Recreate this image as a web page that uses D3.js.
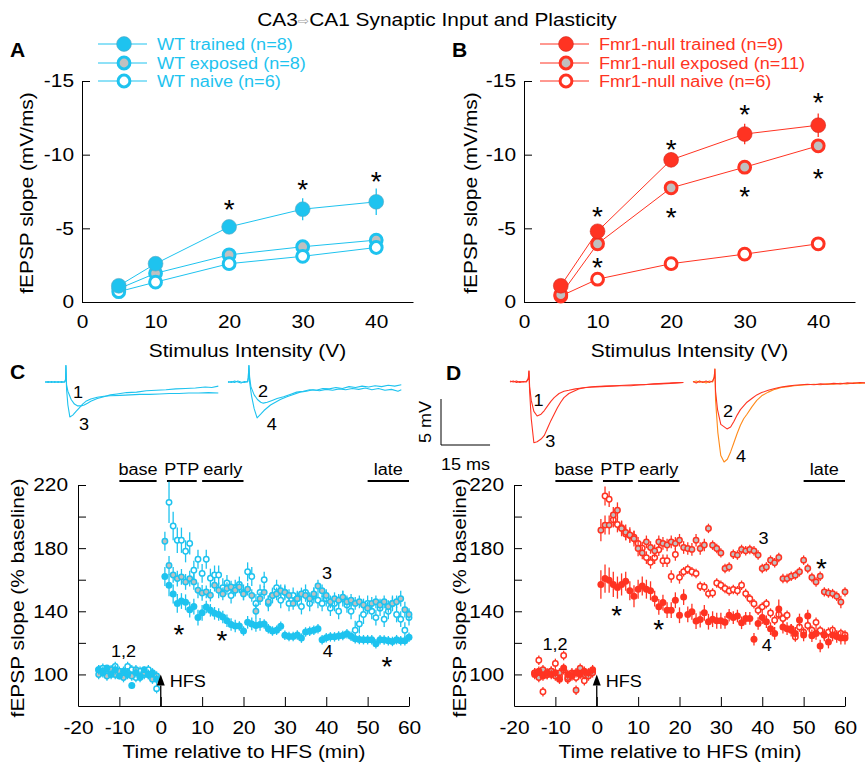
<!DOCTYPE html>
<html><head><meta charset="utf-8">
<script src="https://cdn.jsdelivr.net/npm/d3@7"></script>
<style>
body{margin:0;background:#fff;}
text{font-family:"Liberation Sans",Arial,Helvetica,sans-serif;}
</style></head><body>
<svg id="chart" width="865" height="766" xmlns="http://www.w3.org/2000/svg"></svg>
<script>
// ---------------- DATA ----------------
const titleText = "CA1 Synaptic Input and Plasticity";
// Panel A/B: input-output
const intensities = [5, 10, 20, 30, 40];
const ioTicksX = [0, 10, 20, 30, 40];
const ioTicksY = [0, -5, -10, -15];
const wtTrained = [-1.1, -2.6, -5.1, -6.3, -6.8];
const wtTrainedErr = [0.2, 0.3, 0.4, 0.75, 0.9];
const wtExposed = [-0.9, -1.95, -3.2, -3.75, -4.2];
const wtExposedErr = [0.15, 0.3, 0.3, 0.35, 0.35];
const wtNaive = [-0.7, -1.35, -2.6, -3.1, -3.7];
const wtNaiveErr = [0.1, 0.2, 0.2, 0.25, 0.3];
const koTrained = [-1.1, -4.8, -9.65, -11.4, -12.0];
const koTrainedErr = [0.2, 0.4, 0.5, 0.7, 0.8];
const koExposed = [-0.5, -3.95, -7.75, -9.15, -10.6];
const koExposedErr = [0.1, 0.3, 0.3, 0.3, 0.3];
const koNaive = [-0.4, -1.55, -2.6, -3.25, -3.95];
const koNaiveErr = [0.1, 0.1, 0.15, 0.2, 0.2];
const legendA = ["WT trained (n=8)", "WT exposed (n=8)", "WT naive (n=6)"];
const legendB = ["Fmr1-null trained (n=9)", "Fmr1-null exposed (n=11)", "Fmr1-null naive (n=6)"];
const starsA = [[20, -6.7], [30, -8.1], [40, -8.6]];
const starsB = [[10, -6.25], [20, -10.8], [30, -13.2], [40, -14.0], [10, -2.8], [20, -6.2], [30, -7.6], [40, -8.8]];

// Panel C/D: time course (min relative to HFS)
const minutes = [-15,-14,-13,-12,-11,-10,-9,-8,-7,-6,-5,-4,-3,-2,-1,
  1,2,3,4,5,6,7,8,9,10,11,12,13,14,15,16,17,18,19,20,
  21,22,23,24,25,26,27,28,29,30,31,32,33,34,35,36,37,38,39,40,
  41,42,43,44,45,46,47,48,49,50,51,52,53,54,55,56,57,58,59,60];
const tcTicksX = [-20,-10,0,10,20,30,40,50,60];
const tcTicksY = [100,120,140,160,180,200,220];
const tcLabelsY = [100,140,180,220];

const cTrained = [103,101,104,100,103,99,102,100,93,101,99,103,100,101,97,
  162,156.5,151,145,146.5,145.7,141,143,136,139,
  142.7,140.6,138.7,138,136.4,134,131.6,130.7,130.7,127.5,
  133,132,131,131.7,132,129,127.5,128,130.5,124.8,
  124,124,125,123,126.9,127.3,128,129,122,123.3,
  123.8,123.8,124.3,124.6,125.8,124.2,122.6,122.1,122,122,
  122,119.5,122,121.8,121.3,120.9,122,121.3,121.3,123.5];
const cTrainedErr = [3,3,2,3,3,2,3,3,2,3,3,2,3,3,3,
  6,7,6,6,5,5,5,5,5,5, 4,4,4,4,4,4,4,4,3,3,
  4,4,4,4,3,3,3,3,3,3, 3,3,3,3,3,3,3,3,3,3,
  3,3,3,3,3,3,3,3,3,3, 3,3,3,3,3,3,3,3,3,3];
const cExposed = [100,102,99,103,100,102,98,101,99,103,98,101,100,97,99,
  184.4,169,163,160.7,161.8,158.6,160.7,158.6,153.3,151.6,
  152.3,150.2,156.5,153.3,151,154.4,155.4,153.3,155.4,151,
  154,150,140,148,152,146,150,151,153,152,
  150,145,148,151,150,148,151,156,153,150,
  146,148,147,149,146,147,145,146,144,142,
  145,146,144,146,143,145,146,148,141,138];
const cExposedErr = [3,3,3,3,3,3,3,3,3,3,3,3,3,3,3,
  6,6,5,5,5,5,5,5,5,5, 4,4,4,5,4,4,4,4,4,4,
  4,4,5,4,4,4,4,4,4,4, 4,4,4,4,4,4,4,4,4,4,
  4,4,4,4,4,4,4,4,4,4, 4,4,4,4,4,4,4,5,5,4];
const cNaive = [103,104,100,102,105,100,99,105,103,98,102,100,103,99,91,
  null,209,194,185,185,178,183,166,173,164,
  173,161,163,163,155,158,150,155,157,152,
  165,162,145,152,160,145,150,155,147,152,
  145,150,148,143,152,145,150,147,145,148,
  142,145,140,148,144,140,128,132,138,145,
  140,136,142,135,140,145,138,135,128,136];
const cNaiveErr = [3,3,3,3,3,3,3,3,3,3,3,3,3,3,3,
  0,13,9,8,8,7,7,6,6,6, 6,6,6,6,6,5,5,5,5,5,
  6,6,6,5,5,5,5,5,5,5, 5,5,5,5,5,5,5,5,5,5,
  5,5,5,5,5,5,6,6,6,5, 5,5,5,5,5,5,5,5,5,5];

const dTrained = [100,102,99,101,100,101,97,104,100,99,101,100,102,101,103,
  157,160.7,159.7,157,155,157,159,153,149.5,154,
  156,154,153,148,142.8,145.5,140.7,140.7,147,137.5,
  149,138,139.7,133.8,134.8,139,133.4,135,134,134,
  133,137.5,136,137,132.7,135.5,135.5,122.3,132.3,136,
  133.4,129,126,141.5,130,129,128,126,134.5,125,
  137,124.5,126,118,125,120.5,125,124,123,123];
const dTrainedErr = [3,3,3,3,3,3,3,3,3,3,3,3,3,3,3,
  9,9,8,8,7,7,6,6,7,6, 6,6,6,5,5,5,5,5,5,5,
  5,5,5,5,5,5,5,5,5,5, 4,4,4,4,4,4,4,4,4,4,
  4,4,4,6,4,4,4,4,4,4, 4,4,4,4,4,4,4,4,4,4];
const dExposed = [101,98,103,100,102,99,101,103,98,100,90,104,100,99,101,
  191.4,194.6,194.6,201,204,192.5,190,188.3,186,179.8,
  177,184,180.4,178.3,184,183,182,184,183,185,
  180.4,179.8,179.2,185,179.8,182,192.5,181.9,179.8,177,
  167.1,168.1,176.2,175.6,179.2,178.3,179.2,178.3,175.6,167.1,
  168.1,172.4,170.7,174.1,160.7,160.7,162.2,162.9,165,172.4,
  167.1,161.4,158.6,162.2,152.3,151.6,151.2,149.5,145.9,152.3];
const dExposedErr = [3,3,3,3,3,3,3,3,3,3,3,3,3,3,3,
  7,6,6,5,5,5,5,5,5,5, 4,4,4,4,4,4,4,4,4,4,
  4,4,4,4,4,4,3,3,3,3, 3,3,3,3,3,3,3,3,3,3,
  3,3,3,3,3,3,3,3,3,3, 3,3,3,3,3,3,3,3,4,3];
const dNaive = [101,109,89,100,102,107,99,112,97,101,98,103,96,100,102,
  null,213,211,198,195,193,189,188,187,183,
  180,174,171,174,179,172,172,162,176,161.5,
  165,166.6,165,164,155.9,155.4,151.2,151.6,157.9,156.5,
  154.4,152.9,153.8,153,156.5,151.2,148,144.8,140.6,142.8,
  144.8,138.9,134.3,138,135.4,137.5,129,123.7,130,126.8,
  131,128,133,127.8,125,126.8,128,124.7,126,125];
const dNaiveErr = [3,3,3,3,3,3,3,3,3,3,3,3,3,3,3,
  0,6,5,5,5,4,4,4,4,4, 4,4,4,4,4,4,4,4,4,4,
  3,3,3,3,3,3,3,3,3,3, 3,3,3,3,3,3,3,3,3,3,
  3,3,3,3,3,3,3,3,3,3, 3,3,3,3,3,3,3,3,3,3];

const periods = [["base", -10, -1], ["PTP", 1.5, 8.7], ["early", 10, 20], ["late", 50, 60]];

// Example traces [ms, mV]
const traceC1 = [[0,0],[1,0.05],[2,-0.05],[3,0.05],[4,-0.05],[5,0.05],[6,0],[6.3,0.2],[6.4,1.8],[6.6,-0.3],[7,-1.0],[8,-1.9],[9,-2.4],[10,-2.6],[11,-2.6],[12,-2.5],[13,-2.3],[14,-2.1],[16,-1.8],[18,-1.6],[20,-1.4],[22,-1.3],[25,-1.15],[28,-1.1],[31,-0.95],[34,-0.9],[37,-0.85],[40,-0.75],[43,-0.7],[46,-0.65],[49,-0.55],[51,-0.6],[53,-0.45]];
const traceC3 = [[0,0],[1,-0.05],[2,0.05],[3,-0.05],[4,0.05],[5,-0.05],[6,0],[6.3,0.3],[6.4,1.8],[6.6,-0.8],[7,-2.5],[7.6,-3.8],[8.5,-3.6],[9.5,-3.2],[10.5,-2.8],[11.5,-2.4],[12.5,-2.1],[14,-1.85],[16,-1.65],[18,-1.55],[20,-1.5],[23,-1.45],[26,-1.4],[29,-1.35],[32,-1.35],[35,-1.3],[38,-1.25],[41,-1.25],[44,-1.2],[47,-1.2],[50,-1.15],[53,-1.2]];
const traceC2 = [[0,0.05],[1,-0.05],[2,0.1],[3,0],[4,-0.1],[5,0.05],[6,0],[6.2,0.4],[6.4,1.8],[6.6,0.6],[7,-0.5],[8,-1.4],[9,-1.9],[10,-2.2],[10.8,-2.3],[12,-2.2],[13.5,-2.0],[15,-1.8],[17,-1.6],[19,-1.35],[21,-1.1],[23,-1.0],[25,-0.85],[27,-0.9],[29,-0.7],[31,-0.75],[33,-0.6],[35,-0.7],[37,-0.5],[39,-0.6],[41,-0.45],[43,-0.55],[45,-0.4],[47,-0.5],[49,-0.35],[51,-0.45],[53,-0.3]];
const traceC4 = [[0,-0.05],[1,0.05],[2,-0.05],[3,0.1],[4,0],[5,-0.05],[6,0.05],[6.2,0.5],[6.4,1.8],[6.6,0],[7.2,-1.5],[8,-2.9],[8.9,-3.9],[10,-3.5],[11,-3.1],[12,-2.8],[13,-2.5],[14.5,-2.2],[16,-1.9],[18,-1.6],[20,-1.35],[22,-1.1],[24,-1.0],[26,-0.85],[28,-0.95],[30,-0.8],[32,-0.9],[34,-0.75],[36,-0.85],[38,-0.7],[40,-0.8],[42,-0.65],[44,-0.85],[46,-0.7],[48,-0.9],[50,-0.8],[52,-1.0],[53,-0.85]];
const traceD1 = [[0,0.1],[1,0],[2,0.1],[3,-0.05],[4,0.05],[5,0],[5.6,0.3],[5.8,1.2],[6,-0.5],[6.5,-2.0],[7.3,-3.2],[8.3,-3.7],[9.5,-3.5],[10.5,-3.1],[11.5,-2.6],[12.5,-2.1],[13.5,-1.7],[15,-1.25],[16.5,-1.0],[18,-0.9],[20,-0.75],[22,-0.65],[25,-0.55],[28,-0.5],[31,-0.45],[34,-0.4],[37,-0.4],[40,-0.3],[43,-0.25],[46,-0.2],[49,-0.15],[51,-0.1],[53,-0.05]];
const traceD3 = [[0,0],[1,0.1],[2,-0.05],[3,0.05],[4,0],[5,0.05],[5.6,0.4],[5.8,1.2],[6,-1.0],[6.5,-4.0],[7.3,-6.6],[8.3,-6.5],[9.5,-6.2],[10.5,-5.8],[11.5,-5.0],[12.5,-4.2],[13.5,-3.5],[14.5,-2.8],[15.5,-2.2],[16.5,-1.7],[18,-1.25],[19.5,-1.0],[21,-0.75],[23,-0.6],[26,-0.5],[29,-0.45],[32,-0.4],[35,-0.35],[38,-0.3],[41,-0.3],[44,-0.2],[47,-0.15],[50,-0.1],[53,-0.05]];
const traceD2 = [[0,0.05],[1,-0.1],[2,0.1],[3,-0.05],[4,0.1],[5,-0.05],[6,0.1],[6.5,0.5],[6.7,1.4],[6.9,-1.0],[7.5,-3.0],[8.5,-4.6],[10.4,-5.1],[11.5,-4.9],[12.5,-4.3],[13.5,-3.6],[14.5,-3.0],[15.5,-2.6],[16.5,-2.2],[18,-1.8],[19.5,-1.4],[21,-1.15],[23,-0.9],[25,-0.7],[27,-0.55],[29,-0.45],[31,-0.35],[33,-0.3],[35,-0.25],[37,-0.3],[39,-0.2],[41,-0.25],[43,-0.15],[45,-0.2],[47,-0.1],[49,-0.15],[51,-0.05],[53,-0.1]];
const traceD4 = [[0,0],[1,0.1],[2,-0.05],[3,0.05],[4,-0.1],[5,0.1],[6,0],[6.5,0.6],[6.7,1.4],[6.9,-2.0],[7.6,-5.5],[8.5,-8.0],[9.5,-8.7],[10.5,-8.4],[11.5,-7.6],[12.5,-6.6],[13.5,-5.6],[14.5,-4.7],[15.5,-4.0],[16.5,-3.5],[18,-2.7],[19.5,-2.0],[21,-1.5],[23,-1.1],[25,-0.8],[27,-0.6],[29,-0.5],[31,-0.4],[33,-0.35],[35,-0.3],[37,-0.25],[39,-0.3],[41,-0.2],[43,-0.25],[45,-0.15],[47,-0.2],[49,-0.1],[51,-0.15],[53,-0.1]];

// ---------------- STYLE ----------------
const CYAN = "#1ec3ef", RED = "#ff3322", ORANGE = "#ff8a1a", GRAY = "#c0c0c0";
const SX = 1.13;
const svg = d3.select("#chart");

function addText(parent, x, y, str, o = {}) {
  const size = o.size || 16, sx = o.sx || SX;
  return parent.append("text")
    .attr("transform", `translate(${x},${y})` + (o.rotate ? ` rotate(${o.rotate})` : "") + ` scale(${sx},1)`)
    .attr("text-anchor", o.anchor || "start")
    .attr("font-size", size)
    .attr("font-weight", o.weight || "normal")
    .attr("fill", o.fill || "#000")
    .text(str);
}
function styleAxis(g, size) {
  g.attr("font-family", null).attr("font-size", null);
  g.selectAll("path.domain").attr("stroke", "#000").attr("stroke-width", 1);
  g.selectAll(".tick line").attr("stroke", "#000").attr("stroke-width", 1);
  g.selectAll(".tick text").attr("font-size", size).attr("fill", "#000").each(function () {
    const t = d3.select(this);
    const x = +t.attr("x") || 0, y = +t.attr("y") || 0;
    t.attr("x", 0).attr("y", 0).attr("transform", `translate(${x},${y}) scale(${SX},1)`);
  });
}
function star(g, x, y) { addText(g, x, y + 16, "*", { size: 28, anchor: "middle", sx: 1 }); }

// ---------------- TITLE ----------------
const title = svg.append("text").attr("transform", `translate(437,26) scale(${SX},1)`)
  .attr("text-anchor", "middle").attr("font-size", 18.5).attr("fill", "#000");
title.append("tspan").text("CA3");
title.append("tspan").attr("fill", "#a0a0a0").attr("font-family", "DejaVu Sans").attr("font-size", 12).attr("dy", -1.5).text("\u21E8");
title.append("tspan").attr("dy", 1.5).text(titleText);

// ---------------- PANELS A/B ----------------
function ioPanel(x0, letter, series, legend, color, stars, labelX) {
  const g = svg.append("g");
  const xs = d3.scaleLinear().domain([0, 45]).range([x0, x0 + 331]);
  const ys = d3.scaleLinear().domain([0, -15]).range([302, 81]);
  const gx = g.append("g").attr("transform", "translate(0,302)")
    .call(d3.axisBottom(xs).tickValues(ioTicksX).tickSize(0).tickPadding(13).tickFormat(d => String(d)));
  styleAxis(gx, 18.5);
  const gy = g.append("g").attr("transform", `translate(${x0},0)`)
    .call(d3.axisLeft(ys).tickValues(ioTicksY).tickSizeInner(-8).tickSizeOuter(0).tickPadding(8).tickFormat(d => String(d)));
  styleAxis(gy, 18.5);
  addText(g, (x0 + x0 + 331) / 2, 356.5, "Stimulus Intensity (V)", { size: 18.5, anchor: "middle" });
  addText(g, labelX, 193, "fEPSP slope (mV/ms)", { size: 18.5, anchor: "middle", rotate: -90 });
  addText(g, x0 - 72, 57, letter, { size: 19.5, weight: "bold", sx: 1.08 });
  const line = d3.line().x((d, i) => xs(intensities[i])).y(d => ys(d));
  series.forEach(s => {
    g.append("path").attr("d", line(s.vals)).attr("fill", "none").attr("stroke", color).attr("stroke-width", 1);
  });
  series.forEach(s => {
    g.append("g").selectAll("line").data(s.vals).join("line")
      .attr("x1", (d, i) => xs(intensities[i])).attr("x2", (d, i) => xs(intensities[i]))
      .attr("y1", (d, i) => ys(d - s.errs[i])).attr("y2", (d, i) => ys(d + s.errs[i]))
      .attr("stroke", color).attr("stroke-width", 1.3);
    const c = g.append("g").selectAll("circle").data(s.vals).join("circle")
      .attr("cx", (d, i) => xs(intensities[i])).attr("cy", d => ys(d));
    marker(c, s.kind, color);
  });
  stars.forEach(p => star(g, xs(p[0]), ys(p[1])));
  // legend
  const order = ["filled", "gray", "open"];
  const rows = [44, 63, 81];
  order.forEach((k, i) => {
    g.append("line").attr("x1", x0 + 16).attr("x2", x0 + 65).attr("y1", rows[i]).attr("y2", rows[i]).attr("stroke", color).attr("stroke-width", 1);
    marker(g.append("circle").attr("cx", x0 + 42).attr("cy", rows[i]), k, color);
    addText(g, x0 + 75, rows[i] + 5.8, legend[i], { size: 16, fill: color });
  });
}
function marker(sel, kind, color) {
  if (kind === "filled") sel.attr("r", 7.4).attr("fill", color).attr("stroke", "#5aa6c0").attr("stroke-width", 0.6);
  else sel.attr("r", 5.9).attr("fill", kind === "gray" ? GRAY : "#fff").attr("stroke", color).attr("stroke-width", 3);
  if (kind === "filled" && color === RED) sel.attr("stroke", "#d02a20");
}
ioPanel(82, "A", [
  { vals: wtExposed, errs: wtExposedErr, kind: "gray" },
  { vals: wtNaive, errs: wtNaiveErr, kind: "open" },
  { vals: wtTrained, errs: wtTrainedErr, kind: "filled" }], legendA, CYAN, starsA, 33);
ioPanel(524, "B", [
  { vals: koNaive, errs: koNaiveErr, kind: "open" },
  { vals: koExposed, errs: koExposedErr, kind: "gray" },
  { vals: koTrained, errs: koTrainedErr, kind: "filled" }], legendB, RED, starsB, 477);

// ---------------- TRACES ----------------
const trY = d3.scaleLinear().domain([-10, 5]).range([382 + 92, 382 - 46]);
function drawTrace(x0, data, color) {
  const tx = d3.scaleLinear().domain([0, 53]).range([x0, x0 + 173.3]);
  svg.append("path").attr("d", d3.line().x(d => tx(d[0])).y(d => trY(d[1]))(data))
    .attr("fill", "none").attr("stroke", color).attr("stroke-width", 1.1).attr("stroke-linejoin", "round");
  return tx;
}
const txC1 = drawTrace(45, traceC1, CYAN); drawTrace(45, traceC3, CYAN);
const txC2 = drawTrace(228, traceC2, CYAN); drawTrace(228, traceC4, CYAN);
const txD1 = drawTrace(510, traceD1, RED); drawTrace(510, traceD3, RED);
const txD2 = drawTrace(693, traceD4, ORANGE); drawTrace(693, traceD2, RED);
[[txC1, 10.1, -1.74, "1"], [txC1, 11.9, -5.2, "3"], [txC2, 10.7, -1.63, "2"], [txC2, 13.4, -5.2, "4"],
 [txD1, 8.7, -2.6, "1"], [txD1, 12.3, -7.07, "3"], [txD2, 10.7, -3.8, "2"], [txD2, 14.7, -8.7, "4"]]
  .forEach(a => addText(svg, a[0](a[1]), trY(a[2]), a[3], { size: 16, anchor: "middle" }));
// scale bar 5 mV / 15 ms
{
  const sx0 = 441, sy0 = 445;
  const hLen = txC1(15) - txC1(0), vLen = trY(0) - trY(5);
  svg.append("path").attr("d", `M${sx0},${sy0 - vLen}V${sy0}H${sx0 + hLen}`).attr("fill", "none").attr("stroke", "#000").attr("stroke-width", 1);
  addText(svg, sx0 - 10, sy0 - vLen / 2, "5 mV", { size: 16, anchor: "middle", rotate: -90 });
  addText(svg, sx0 + hLen / 2, 470, "15 ms", { size: 16, anchor: "middle" });
}
addText(svg, 10, 379, "C", { size: 19.5, weight: "bold", sx: 1.08 });
addText(svg, 446, 380, "D", { size: 19.5, weight: "bold", sx: 1.08 });

// ---------------- PANELS C/D ----------------
function tcPanel(x0, series, color, ann, labelX) {
  const g = svg.append("g");
  const xs = d3.scaleLinear().domain([-20, 60]).range([x0, x0 + 331]);
  const ys = d3.scaleLinear().domain([80, 220]).range([706, 485]);
  const gx = g.append("g").attr("transform", "translate(0,706)")
    .call(d3.axisBottom(xs).tickValues(tcTicksX).tickSizeInner(-9).tickSizeOuter(0).tickPadding(15).tickFormat(d => String(d)));
  styleAxis(gx, 18.5);
  const gy = g.append("g").attr("transform", `translate(${x0},0)`)
    .call(d3.axisLeft(ys).tickValues(tcTicksY).tickSizeInner(-8).tickSizeOuter(0).tickPadding(10)
      .tickFormat(d => tcLabelsY.includes(d) ? String(d) : ""));
  styleAxis(gy, 18.5);
  addText(g, x0 + 166, 758, "Time relative to HFS (min)", { size: 18.5, anchor: "middle" });
  addText(g, labelX, 598, "fEPSP slope (% baseline)", { size: 18.5, anchor: "middle", rotate: -90 });
  // period bars
  periods.forEach(p => {
    g.append("line").attr("x1", xs(p[1])).attr("x2", xs(p[2])).attr("y1", 481).attr("y2", 481).attr("stroke", "#000").attr("stroke-width", 2);
    addText(g, (xs(p[1]) + xs(p[2])) / 2, 475, p[0], { size: 16, anchor: "middle" });
  });
  series.forEach(s => {
    const pts = minutes.map((t, i) => ({ t, v: s.vals[i], e: s.errs[i] })).filter(d => d.v != null);
    g.append("g").selectAll("line").data(pts).join("line")
      .attr("x1", d => xs(d.t)).attr("x2", d => xs(d.t))
      .attr("y1", d => ys(d.v - d.e)).attr("y2", d => ys(d.v + d.e))
      .attr("stroke", color).attr("stroke-width", 1.3);
    const c = g.append("g").selectAll("circle").data(pts).join("circle")
      .attr("cx", d => xs(d.t)).attr("cy", d => ys(d.v));
    if (s.kind === "filled") c.attr("r", 3.5).attr("fill", color);
    else c.attr("r", 2.7).attr("fill", s.kind === "gray" ? GRAY : "#fff").attr("stroke", color).attr("stroke-width", 1.5);
  });
  // HFS arrow
  g.append("path").attr("d", `M${xs(0)},${ys(100)}L${xs(0) + 4},${ys(93)}L${xs(0) - 4},${ys(93)}Z`).attr("fill", "#000");
  g.append("line").attr("x1", xs(0)).attr("x2", xs(0)).attr("y1", ys(93)).attr("y2", ys(80)).attr("stroke", "#000").attr("stroke-width", 1.3);
  addText(g, xs(0) + 9, ys(92), "HFS", { size: 16 });
  ann.labels.forEach(a => addText(g, xs(a[0]), ys(a[1]) + 5.8, a[2], { size: 16, anchor: "middle" }));
  ann.stars.forEach(p => star(g, xs(p[0]), ys(p[1])));
}
tcPanel(78, [
  { vals: cNaive, errs: cNaiveErr, kind: "open" },
  { vals: cExposed, errs: cExposedErr, kind: "gray" },
  { vals: cTrained, errs: cTrainedErr, kind: "filled" }], CYAN,
  { labels: [[-9, 115, "1,2"], [40.2, 164, "3"], [40.4, 114.6, "4"]], stars: [[4.4, 129.2], [14.8, 125.4], [54.7, 108.9]] }, 24);
tcPanel(514, [
  { vals: dNaive, errs: dNaiveErr, kind: "open" },
  { vals: dExposed, errs: dExposedErr, kind: "gray" },
  { vals: dTrained, errs: dTrainedErr, kind: "filled" }], RED,
  { labels: [[-10.1, 119, "1,2"], [40.3, 186.3, "3"], [41.1, 118.4, "4"]], stars: [[4.8, 141.3], [15, 132.4], [54.3, 171.1]] }, 466);
</script>
</body></html>
